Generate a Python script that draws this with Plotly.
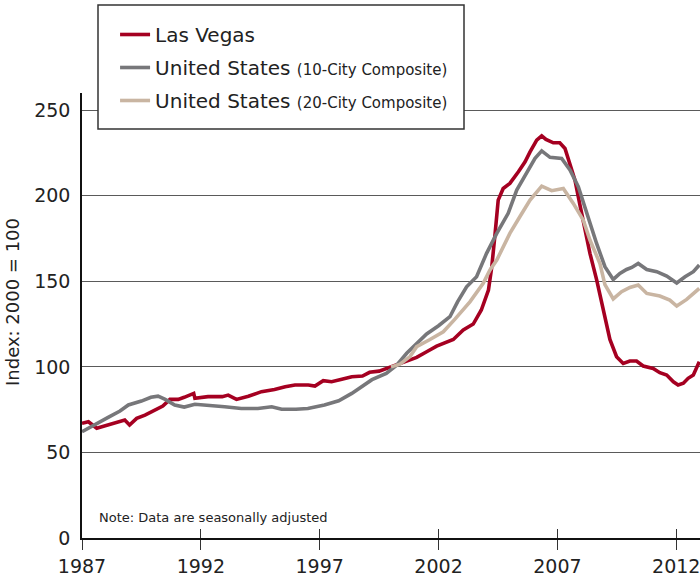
import plotly.graph_objects as go

# ---- data ----
lv_years = [1987.0, 1987.27, 1987.62, 1988.1, 1988.5, 1988.8, 1989.0, 1989.3, 1989.65, 1990.07,
            1990.4, 1990.7, 1991.05, 1991.3, 1991.7, 1991.75, 1992.3, 1992.9, 1993.15, 1993.5,
            1994.0, 1994.55, 1995.1, 1995.55, 1995.96, 1996.52, 1996.8, 1997.15, 1997.5, 1997.93,
            1998.35, 1998.8, 1999.1, 1999.5, 1999.8, 2000.38, 2001.08, 2001.5, 2001.92, 2002.62,
            2003.04, 2003.46, 2003.8, 2004.1, 2004.24, 2004.38, 2004.45, 2004.51, 2004.72, 2005.0,
            2005.36, 2005.64, 2005.85, 2006.13, 2006.34, 2006.52, 2006.83, 2007.1, 2007.32, 2007.53,
            2007.74, 2007.95, 2008.16, 2008.37, 2008.65, 2008.86, 2009.05, 2009.21, 2009.49, 2009.77,
            2010.05, 2010.33, 2010.61, 2011.03, 2011.31, 2011.6, 2011.88, 2012.08, 2012.3, 2012.5,
            2012.72, 2012.97]
lv_values = [67.0, 67.9, 64.1, 66.0, 67.4, 68.9, 66.0, 69.9, 71.8, 74.8,
             77.1, 81.0, 81.0, 82.2, 84.5, 81.6, 82.6, 82.6, 83.5, 81.0,
             82.8, 85.5, 86.8, 88.4, 89.4, 89.4, 88.8, 91.9, 91.3, 92.7,
             94.2, 94.6, 96.8, 97.5, 99.1, 102.0, 105.5, 108.8, 112.1, 116.0,
             121.5, 125.0, 133.2, 144.9, 158.5, 178.0, 191.6, 197.4, 204.2, 207.2,
             214.0, 219.8, 225.6, 232.5, 235.0, 232.9, 230.9, 230.9, 227.6, 218.9,
             209.1, 194.5, 179.9, 166.3, 151.0, 138.0, 126.0, 116.0, 105.9, 102.0,
             103.4, 103.4, 100.5, 99.1, 96.6, 95.2, 91.3, 89.4, 90.4, 93.3,
             95.2, 103.0]

us10_years = [1987.0, 1987.55, 1988.1, 1988.6, 1988.95, 1989.5, 1989.9, 1990.2, 1990.5, 1990.9,
              1991.3, 1991.75, 1992.3, 1993.0, 1993.7, 1994.4, 1994.98, 1995.4, 1996.0, 1996.5,
              1997.2, 1997.8, 1998.35, 1998.9, 1999.2, 1999.8, 2000.24, 2000.66, 2001.08, 2001.5,
              2002.0, 2002.48, 2002.8, 2003.18, 2003.6, 2004.02, 2004.45, 2004.93, 2005.29, 2005.71,
              2006.06, 2006.34, 2006.69, 2007.18, 2007.53, 2007.88, 2008.23, 2008.65, 2009.0, 2009.35,
              2009.63, 2009.91, 2010.13, 2010.4, 2010.76, 2011.18, 2011.6, 2012.02, 2012.37, 2012.72,
              2012.97]
us10_values = [62.1, 66.6, 70.5, 74.2, 77.7, 80.0, 82.2, 82.9, 81.0, 77.7,
               76.5, 78.1, 77.7, 76.7, 75.7, 75.7, 76.7, 75.2, 75.2, 75.7,
               77.7, 80.2, 84.5, 89.4, 92.5, 96.2, 101.0, 107.9, 113.7, 119.2,
               124.0, 129.3, 138.0, 146.8, 152.6, 166.3, 178.0, 189.7, 203.3, 213.0,
               221.8, 226.2, 222.4, 221.8, 215.0, 205.2, 189.7, 172.1, 158.5, 151.1,
               154.6, 156.9, 158.1, 160.4, 156.9, 155.6, 153.0, 149.0, 152.6, 155.6,
               159.5]

us20_years = [2000.0, 2000.38, 2000.8, 2001.08, 2001.64, 2002.2, 2002.7, 2003.32, 2003.88, 2004.16,
              2004.45, 2004.58, 2005.0, 2005.42, 2005.85, 2006.34, 2006.76, 2007.25, 2007.67, 2008.09,
              2008.37, 2008.79, 2009.0, 2009.35, 2009.7, 2010.05, 2010.4, 2010.76, 2011.31, 2011.73,
              2012.02, 2012.44, 2012.97]
us20_values = [100.0, 101.6, 106.0, 111.8, 116.0, 120.5, 128.0, 138.0, 148.8, 156.5,
               162.4, 166.3, 178.0, 187.7, 197.4, 205.6, 202.9, 204.2, 195.5, 185.7,
               174.1, 160.4, 148.0, 139.7, 143.9, 146.4, 147.8, 142.9, 141.4, 139.0,
               135.5, 139.4, 145.8]

x_ticks = [1987, 1992, 1997, 2002, 2007, 2012]
y_ticks = [0, 50, 100, 150, 200, 250]

FONT = "DejaVu Sans"
RED = "#A50021"
GRAY = "#77777A"
TAN = "#C9B5A2"
TXT = "#222222"

fig = go.Figure()
fig.add_trace(go.Scatter(x=lv_years, y=lv_values, mode="lines", name="Las Vegas",
                         legendgroup="a", line=dict(color=RED, width=3.6)))
fig.add_trace(go.Scatter(x=us10_years, y=us10_values, mode="lines",
                         name="United States <span style='font-size:15px'>(10-City Composite)</span>",
                         legendgroup="b", line=dict(color=GRAY, width=3.6)))
fig.add_trace(go.Scatter(x=us20_years, y=us20_values, mode="lines",
                         name="United States <span style='font-size:15px'>(20-City Composite)</span>",
                         legendgroup="c", line=dict(color=TAN, width=3.6)))
# empty helper trace so the overlaid tick axis (ticks crossing the baseline) is drawn
fig.add_trace(go.Scatter(x=[], y=[], xaxis="x2", showlegend=False, hoverinfo="skip"))

fig.update_layout(
    width=700, height=580,
    margin=dict(l=82, r=0, t=93, b=42, autoexpand=False),
    paper_bgcolor="white", plot_bgcolor="white",
    font=dict(family=FONT, color=TXT),
    showlegend=True,
    legend=dict(x=0.0535, y=1 + (93 - 15) / 445, xanchor="left", yanchor="top",
                bgcolor="rgba(0,0,0,0)", borderwidth=0,
                font=dict(family=FONT, size=20, color=TXT),
                tracegroupgap=4, itemwidth=30),
    xaxis=dict(range=[1987, 2013.0], tickvals=x_ticks, ticktext=[str(v) for v in x_ticks],
               showgrid=False, zeroline=False, showline=True, linecolor="#111111", linewidth=1.5,
               ticks="outside", ticklen=10, tickwidth=1.2, tickcolor="#333333",
               ticklabeloverflow="allow",
               tickfont=dict(family=FONT, size=19, color=TXT)),
    xaxis2=dict(range=[1987, 2013.0], tickvals=x_ticks, overlaying="x", anchor="y", side="bottom",
                showgrid=False, zeroline=False, showline=False, showticklabels=False,
                ticks="inside", ticklen=9, tickwidth=1.2, tickcolor="#333333"),
    yaxis=dict(range=[0, 260], tickvals=y_ticks, showgrid=True, gridcolor="#5a5a5a", gridwidth=1,
               zeroline=False, showline=True, linecolor="#111111", linewidth=1.5, ticks="",
               ticklabelstandoff=6,
               tickfont=dict(family=FONT, size=19, color=TXT)),
    shapes=[dict(type="rect", xref="paper", yref="paper",
                 x0=(98 - 82) / 618, x1=(464 - 82) / 618,
                 y0=1 + (93 - 129) / 445, y1=1 + (93 - 5) / 445,
                 fillcolor="white", line=dict(color="#333333", width=1.5), layer="above")],
    annotations=[
        dict(text="Note: Data are seasonally adjusted", xref="paper", yref="paper",
             x=0.024, y=0.047, xanchor="left", yanchor="middle", showarrow=False,
             font=dict(family=FONT, size=13, color=TXT)),
        dict(text="Index: 2000 = 100", xref="paper", yref="paper",
             x=(12 - 82) / 618, y=(538 - 302) / 445, xanchor="center", yanchor="middle",
             textangle=-90, showarrow=False,
             font=dict(family=FONT, size=18, color=TXT)),
    ],
)

fig.write_html("out.html", config={"displayModeBar": False},
               post_script="document.body.style.margin='0';")
